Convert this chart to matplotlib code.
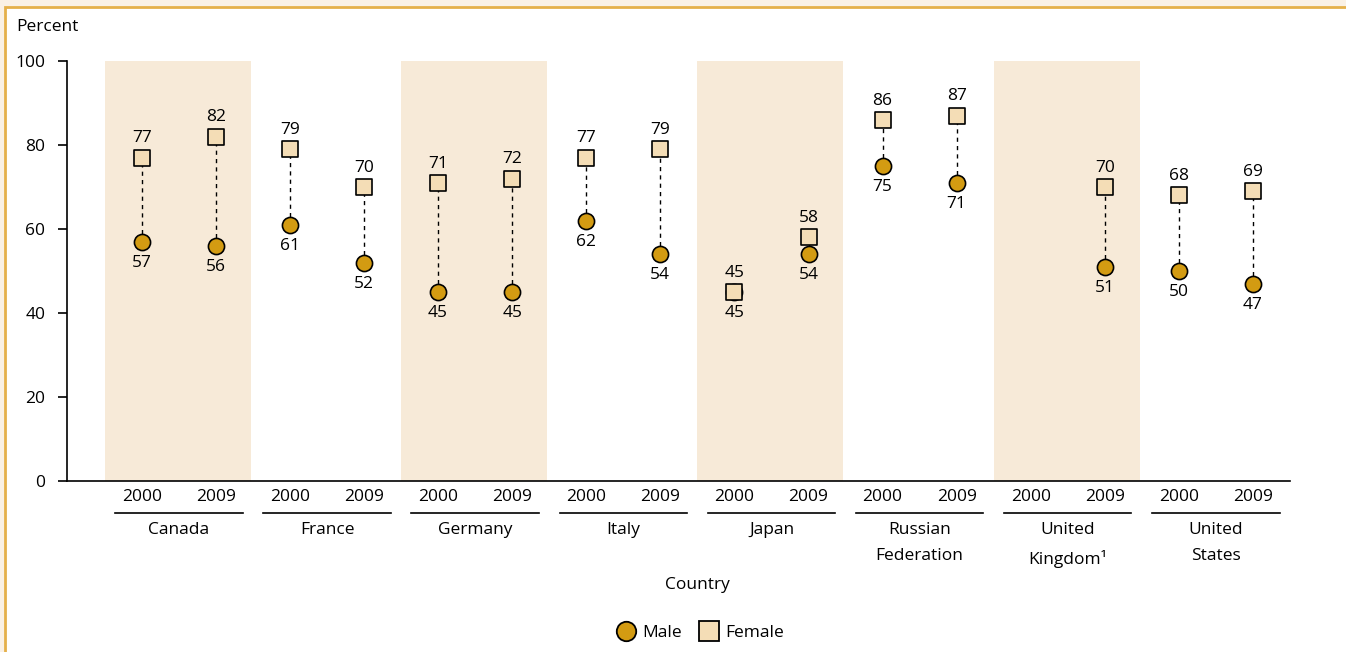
import matplotlib.pyplot as plt
from matplotlib.patches import Rectangle
from matplotlib.lines import Line2D

plt.rcParams['font.family'] = ['Open Sans', 'DejaVu Sans']

countries = ['Canada', 'France', 'Germany', 'Italy', 'Japan',
             'Russian\nFederation', 'United\nKingdom¹', 'United\nStates']
years = ['2000', '2009']
male = [57, 56, 61, 52, 45, 45, 62, 54, 45, 54, 75, 71, None, 51, 50, 47]
female = [77, 82, 79, 70, 71, 72, 77, 79, 45, 58, 86, 87, None, 70, 68, 69]

male_col = '#D39B12'
female_col = '#F4DDB6'
band_col = '#F7EAD8'
fs = 12.5

fig = plt.figure(figsize=(13.46, 6.52), dpi=100)
fig.patch.set_facecolor('#FAF1E5')
frame = Rectangle((5 / 1346, -0.1), 1.2, (645.5 / 652) + 0.1,
                  transform=fig.transFigure, facecolor='white',
                  edgecolor='#E5B04A', linewidth=2, zorder=-10)
fig.patches.append(frame)

ax = fig.add_axes([67 / 1346, 1 - 481 / 652, (1290 - 67) / 1346, 420 / 652])
ax.set_facecolor('none')
ax.set_zorder(1)

xs = list(range(len(male)))
for g in range(0, len(countries), 2):
    ax.axvspan(2 * g - 0.5, 2 * g + 1.47, color=band_col, zorder=0, lw=0)

for x, m, f in zip(xs, male, female):
    if m is None:
        continue
    ax.plot([x, x], [m, f], color='black', ls=(0, (3, 3)), lw=1, zorder=2)
    ax.annotate(str(f), (x, f), xytext=(0, 8), textcoords='offset points',
                ha='center', va='bottom', fontsize=fs)
    ax.annotate(str(m), (x, m), xytext=(0, -9.5), textcoords='offset points',
                ha='center', va='top', fontsize=fs)

mx = [x for x, m in zip(xs, male) if m is not None]
ax.scatter(mx, [m for m in male if m is not None], s=135, marker='o',
           facecolor=male_col, edgecolor='black', lw=1.2, zorder=3)
ax.scatter(mx, [f for f in female if f is not None], s=120, marker='s',
           facecolor=female_col, edgecolor='black', lw=1.2, zorder=4)

ax.set_xlim(-1.01, 15.5)
ax.set_ylim(0, 100)
ax.set_yticks([0, 20, 40, 60, 80, 100])
ax.tick_params(axis='y', labelsize=fs, length=6.5, width=1.2, pad=9)
ax.set_xticks(xs)
ax.set_xticklabels(years * len(countries), fontsize=fs)
ax.tick_params(axis='x', length=0, pad=6)
for s in ['top', 'right']:
    ax.spines[s].set_visible(False)
ax.spines['left'].set_linewidth(1.2)
ax.spines['bottom'].set_linewidth(1.2)

tr = ax.get_xaxis_transform()
for i, name in enumerate(countries):
    x0 = 2 * i
    ax.add_line(Line2D([x0 - 0.36, x0 + 1.36], [-0.077, -0.077], transform=tr,
                       color='black', lw=1.2, clip_on=False))
    ax.text(x0 + 0.5, -0.097, name, transform=tr, ha='center', va='top',
            fontsize=fs, linespacing=1.85)

fig.text(16 / 1346, 1 - 27 / 652, 'Percent', ha='left', va='center',
         fontsize=fs)
fig.text((142 + 74.1 * 7.5) / 1346, 1 - 585 / 652, 'Country', ha='center',
         va='center', fontsize=fs)

handles = [Line2D([], [], ls='none', marker='o', ms=14, mfc=male_col,
                  mec='black', mew=1.3),
           Line2D([], [], ls='none', marker='s', ms=14, mfc=female_col,
                  mec='black', mew=1.3)]
fig.legend(handles, ['Male', 'Female'], loc='center',
           bbox_to_anchor=(0.52, 1 - 633 / 652), ncol=2, frameon=False,
           fontsize=fs, handletextpad=0.3, columnspacing=1.0, handlelength=1.2)

fig.savefig('out.png', dpi=100, facecolor=fig.get_facecolor())
